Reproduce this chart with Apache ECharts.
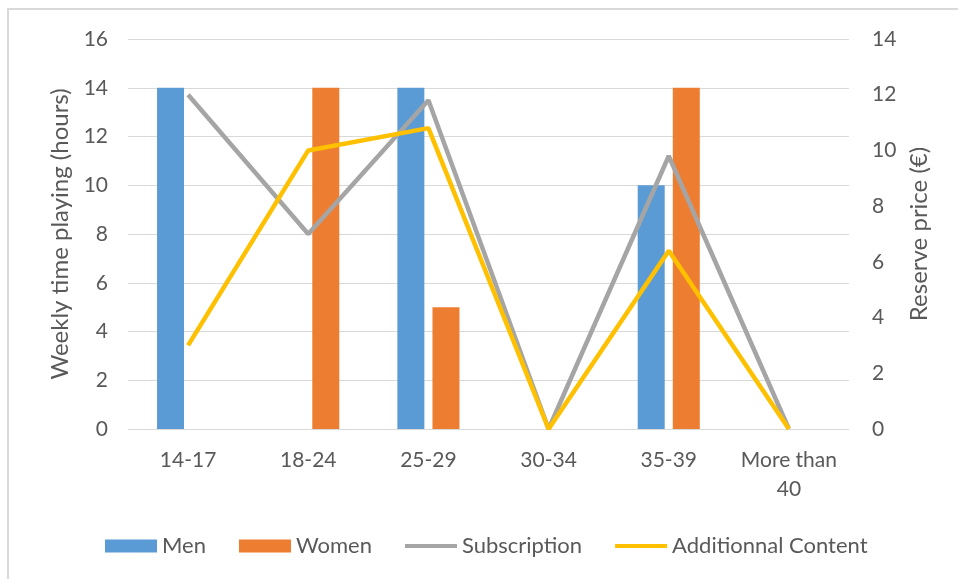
<!DOCTYPE html>
<html><head><meta charset="utf-8">
<script src="https://cdn.jsdelivr.net/npm/echarts@6/dist/echarts.min.js"></script>
<style>html,body{margin:0;padding:0;background:#fff}#c{width:958px;height:579px}</style>
</head><body><div id="c"></div>
<script>
const categories = ['14-17', '18-24', '25-29', '30-34', '35-39', 'More than\n40'];
const men = [14, null, 14, null, 10, null];
const women = [null, 14, 5, null, 14, null];
const subscription = [12, 7, 11.8, 0, 9.8, 0];
const additionalContent = [3, 10, 10.8, 0, 6.4, 0];
const leftTicks = {min: 0, max: 16, interval: 2};
const rightTicks = {min: 0, max: 14, interval: 2};

const FONT = 'Lato';
const TXT = '#595959';
const LINE_ICON = 'path://M0,0 M52,13 M0,4.5 L52,4.5 L52,8.5 L0,8.5 Z';
const chart = echarts.init(document.getElementById('c'), null, {renderer: 'canvas'});
chart.setOption({
  animation: false,
  textStyle: {fontFamily: FONT},
  graphic: [{type: 'rect', shape: {x: 8, y: 9, width: 1000, height: 1000}, style: {fill: 'none', stroke: '#D9D9D9', lineWidth: 2}, silent: true}],
  grid: {left: 128, right: 109, top: 39, bottom: 150},
  legend: {
    left: 100, top: 530, itemWidth: 52, itemHeight: 13, itemGap: 33,
    textStyle: {fontFamily: FONT, fontSize: 22, color: TXT},
    data: [
      {name: 'Men', icon: 'rect'},
      {name: 'Women', icon: 'rect'},
      {name: 'Subscription', icon: LINE_ICON, itemStyle: {color: '#A5A5A5'}},
      {name: 'Additionnal Content', icon: LINE_ICON, itemStyle: {color: '#FFC000'}}
    ]
  },
  xAxis: {
    type: 'category', data: categories,
    axisLine: {show: false}, axisTick: {show: false},
    axisLabel: {color: TXT, fontSize: 21, fontFamily: FONT, margin: 17, lineHeight: 29, interval: 0, hideOverlap: false}
  },
  yAxis: [{
    type: 'value', min: leftTicks.min, max: leftTicks.max, interval: leftTicks.interval,
    name: 'Weekly time playing (hours)', nameLocation: 'middle', nameGap: 56, nameMoveOverlap: false,
    nameTextStyle: {color: TXT, fontSize: 24, fontFamily: FONT},
    axisLine: {show: false}, axisTick: {show: false},
    axisLabel: {color: TXT, fontSize: 21, fontFamily: FONT, margin: 20},
    splitLine: {lineStyle: {color: '#D9D9D9', width: 1}}
  }, {
    type: 'value', min: rightTicks.min, max: rightTicks.max, interval: rightTicks.interval,
    name: 'Reserve price (€)', nameLocation: 'middle', nameGap: 58, nameRotate: 90, nameMoveOverlap: false,
    nameTextStyle: {color: TXT, fontSize: 24, fontFamily: FONT},
    axisLine: {show: false}, axisTick: {show: false},
    axisLabel: {color: TXT, fontSize: 21, fontFamily: FONT, margin: 23},
    splitLine: {show: false}
  }],
  series: [
    {name: 'Men', type: 'bar', data: men, barWidth: 27, barGap: '30%', itemStyle: {color: '#5B9BD5'}},
    {name: 'Women', type: 'bar', data: women, barWidth: 27, barGap: '30%', itemStyle: {color: '#ED7D31'}},
    {name: 'Subscription', type: 'line', yAxisIndex: 1, data: subscription, symbol: 'none', lineStyle: {color: '#A5A5A5', width: 4.5}, itemStyle: {color: '#A5A5A5'}},
    {name: 'Additionnal Content', type: 'line', yAxisIndex: 1, data: additionalContent, symbol: 'none', lineStyle: {color: '#FFC000', width: 4.5}, itemStyle: {color: '#FFC000'}}
  ]
});
</script></body></html>
